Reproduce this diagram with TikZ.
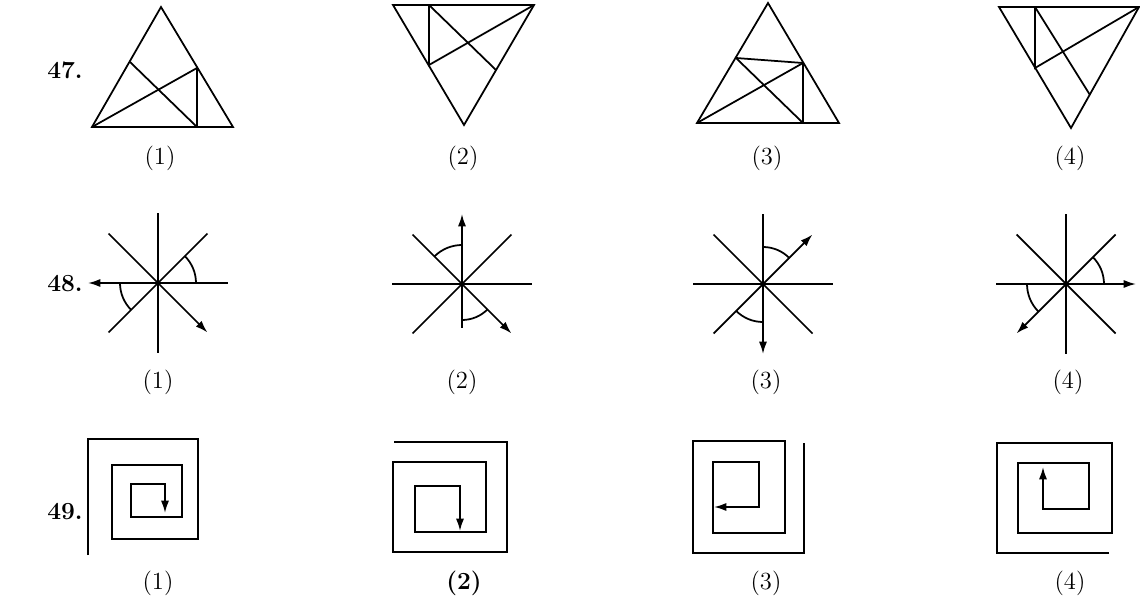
\documentclass[tikz,border=0pt]{standalone}
\usepackage{tikz}
\usetikzlibrary{arrows.meta}

\begin{document}
\begin{tikzpicture}[x=0.02cm,y=0.02cm,
  fig/.style={line width=1pt,line join=miter},
  tip/.style={-{Latex[length=7pt,width=4.6pt]}},
  num/.style={font=\fontsize{14}{17}\selectfont\bfseries},
  opt/.style={font=\fontsize{14}{17}\selectfont}]
\useasboundingbox (0,0) rectangle (1140,603);
% 47: triangles
\node[num] (n47) at (65,533) {47.};
\draw[fig] (92,476) -- (161,596) -- (233,476) -- cycle;
\draw[fig] (92,476) -- (197,535) -- (197,476);
\draw[fig] (130,541) -- (197,476);
\draw[fig] (393,598) -- (534,598) -- (464,478) -- cycle;
\draw[fig] (429,598) -- (429,538) -- (534,598);
\draw[fig] (429,598) -- (496,533);
\draw[fig] (697,480) -- (768,600) -- (839,480) -- cycle;
\draw[fig] (736,545) -- (803,540) -- (803,480);
\draw[fig] (697,480) -- (803,540);
\draw[fig] (736,545) -- (803,480);
\draw[fig] (999,596) -- (1139,596) -- (1071,475) -- cycle;
\draw[fig] (1035,596) -- (1035,535) -- (1139,596);
\draw[fig] (1035,596) -- (1090,508);
\node[opt] (a47) at (160,445) {(1)};
\node[opt] (b47) at (463,445) {(2)};
\node[opt] (c47) at (767,445) {(3)};
\node[opt] (d47) at (1070,445) {(4)};
% 48: stars
\node[num] (n48) at (65,319) {48.};
\coordinate (s1) at (158,320);
\draw[fig] (s1) ++(90:70) -- ++(270:140);
\draw[fig] (s1) ++(135:70) -- ++(315:70);
\draw[fig] (s1) ++(45:70) -- ++(225:140);
\draw[fig] (s1) -- +(0:70);
\draw[fig,tip] (s1) -- +(180:70);
\draw[fig,tip] (s1) -- +(315:70);
\draw[fig] (s1) ++(0:38) arc (0:45:38);
\draw[fig] (s1) ++(180:38) arc (180:225:38);
\fill (s1) circle (2.4);
\coordinate (s2) at (462,319);
\draw[fig] (s2) ++(180:70) -- ++(0:140);
\draw[fig] (s2) ++(45:70) -- ++(225:140);
\draw[fig] (s2) ++(135:70) -- ++(315:70);
\draw[fig] (s2) -- +(270:44);
\draw[fig,tip] (s2) -- +(90:70);
\draw[fig,tip] (s2) -- +(315:70);
\draw[fig] (s2) ++(90:39) arc (90:135:39);
\draw[fig] (s2) ++(270:36) arc (270:315:36);
\fill (s2) circle (2.4);
\coordinate (s3) at (763,319);
\draw[fig] (s3) ++(180:70) -- ++(0:140);
\draw[fig] (s3) ++(135:70) -- ++(315:140);
\draw[fig] (s3) ++(225:70) -- ++(45:70);
\draw[fig] (s3) -- +(90:70);
\draw[fig,tip] (s3) -- +(45:70);
\draw[fig,tip] (s3) -- +(270:70);
\draw[fig] (s3) ++(45:37) arc (45:90:37);
\draw[fig] (s3) ++(225:38) arc (225:270:38);
\fill (s3) circle (2.4);
\coordinate (s4) at (1066,319);
\draw[fig] (s4) ++(90:70) -- ++(270:140);
\draw[fig] (s4) ++(135:70) -- ++(315:140);
\draw[fig] (s4) ++(45:70) -- ++(225:70);
\draw[fig] (s4) -- +(180:70);
\draw[fig,tip] (s4) -- +(0:70);
\draw[fig,tip] (s4) -- +(225:70);
\draw[fig] (s4) ++(0:38) arc (0:45:38);
\draw[fig] (s4) ++(180:39) arc (180:225:39);
\fill (s4) circle (2.4);
\node[opt] (a48) at (158,221) {(1)};
\node[opt] (b48) at (462,221) {(2)};
\node[opt] (c48) at (766,221) {(3)};
\node[opt] (d48) at (1068,221) {(4)};
% 49: spirals
\node[num] (n49) at (65,91) {49.};
\draw[fig,tip] (88,48) |- (198,164) |- (112,64) |- (182,138) |- (131,86) |- (165,119) -- (165,90);
\draw[fig,tip] (394,161) -| (507,51) -| (393,141) -| (486,71) -| (415,117) -| (460,72);
\draw[fig,tip] (804,160) |- (693,50) |- (785,162) |- (713,70) |- (759,141) |- (714,96);
\draw[fig,tip] (1109,50) -| (997,160) -| (1112,70) -| (1018,140) -| (1089,94) -| (1043,136);
\node[opt] (a49) at (158,20) {(1)};
\node[opt] (b49) at (464,20) {\textbf{(2)}};
\node[opt] (c49) at (766,20) {(3)};
\node[opt] (d49) at (1070,20) {(4)};
\end{tikzpicture}
\end{document}
